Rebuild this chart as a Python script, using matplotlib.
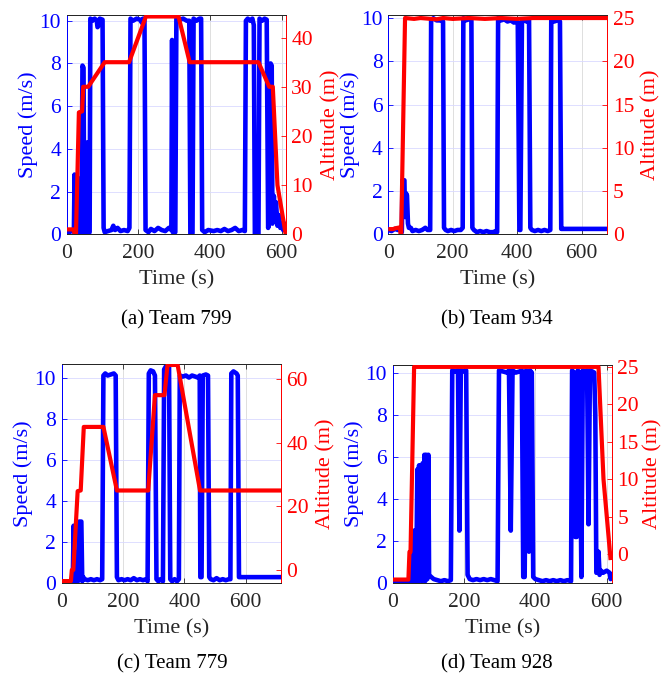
import matplotlib
matplotlib.use("Agg")
import matplotlib.pyplot as plt
from matplotlib.ticker import FixedLocator

plt.rcParams['font.family'] = ['Liberation Serif', 'DejaVu Serif']
plt.rcParams['font.size'] = 15

# ---------------- Team 799 ----------------
a_speed_t = [0, 8, 16, 20, 22, 24, 30, 34, 37, 41, 44, 47, 49, 52, 54, 57, 60, 64, 66, 72, 78, 84, 86, 90, 92,
             100, 103, 106, 115, 125, 130, 135, 142, 150, 160, 170, 175, 178, 185, 195, 205, 210, 213, 217, 220,
             228, 235, 245, 255, 265, 275, 285, 292, 294, 296, 303, 306, 315, 325, 335, 342, 345, 351, 354, 362,
             370, 375, 378, 385, 395, 410, 420, 430, 440, 450, 460, 470, 480, 490, 497, 500, 505, 512, 518, 522,
             525, 535, 538, 545, 552, 558, 562, 566, 569, 572, 574, 578, 581, 584, 588, 592, 596, 600, 604, 608, 611]
a_speed_v = [0.15, 0.1, 0.2, 0.1, 2.8, 0.1, 0.2, 2.6, 0.0, 0.2, 7.9, 7.8, 0.0, 2.0, 0.1, 4.3, 0.0, 0.1, 10.1, 10.0,
             10.1, 10.0, 9.7, 9.8, 10.1, 10.05, 0.3, 0.1, 0.15, 0.2, 0.4, 0.2, 0.3, 0.15, 0.2, 0.15, 0.3, 10.1,
             10.0, 10.1, 10.05, 9.9, 10.1, 10.1, 0.2, 0.1, 0.25, 0.15, 0.3, 0.2, 0.15, 0.3, 0.2, 9.1, 0.1, 0.1,
             10.1, 10.05, 10.1, 10.0, 10.0, 0.0, 0.05, 10.1, 10.0, 10.1, 10.1, 0.2, 0.1, 0.2, 0.15, 0.2, 0.15,
             0.25, 0.15, 0.2, 0.3, 0.15, 0.2, 0.15, 10.0, 10.1, 10.0, 10.1, 9.8, 0.0, 0.0, 10.1, 10.0, 10.1,
             10.05, 0.3, 0.6, 8.0, 7.9, 0.5, 1.8, 0.8, 1.5, 0.4, 0.9, 0.3, 0.5, 0.2, 0.5, 0.4]
a_alt_t = [0, 18, 22, 26, 34, 43, 46, 60, 106, 174, 221, 312, 343, 535, 565, 575, 588, 611]
a_alt_v = [1.0, 1.0, 0.2, 0.2, 24.8, 25.0, 30.0, 30.0, 35.0, 35.0, 44.3, 44.3, 35.0, 35.0, 30.0, 30.0, 10.0, 0.0]

# ---------------- Team 934 ----------------
b_speed_t = [0, 10, 20, 30, 38, 42, 44, 50, 52, 55, 58, 61, 64, 70, 75, 85, 95, 105, 115, 122, 130, 133, 140,
             150, 160, 170, 173, 178, 185, 195, 205, 215, 225, 231, 233, 240, 250, 258, 261, 266, 275, 285, 295,
             305, 315, 325, 335, 338, 341, 350, 360, 370, 380, 390, 398, 402, 407, 410, 415, 420, 430, 437, 441,
             446, 455, 465, 475, 485, 495, 503, 506, 515, 525, 533, 537, 545, 680]
b_speed_v = [0.2, 0.15, 0.25, 0.2, 0.25, 0.1, 2.5, 2.5, 0.8, 1.9, 1.8, 0.5, 0.3, 0.3, 0.15, 0.2, 0.15, 0.2, 0.3,
             0.2, 0.2, 9.9, 10.0, 9.9, 9.9, 9.85, 0.3, 0.2, 0.15, 0.2, 0.15, 0.2, 0.2, 0.3, 10.0, 9.9, 9.95, 9.9,
             0.3, 0.2, 0.1, 0.15, 0.1, 0.15, 0.1, 0.1, 0.15, 0.1, 10.0, 9.9, 9.95, 9.85, 9.9, 9.8, 9.85, 9.8, 0.2,
             0.2, 9.9, 9.9, 9.85, 9.9, 0.3, 0.2, 0.15, 0.2, 0.15, 0.2, 0.15, 0.2, 9.9, 9.85, 9.9, 9.85, 0.25,
             0.25, 0.25]
b_alt_t = [0, 15, 22, 36, 38, 40, 52, 80, 100, 150, 170, 200, 250, 300, 350, 400, 450, 500, 680]
b_alt_v = [0.6, 0.6, 0.7, 0.8, 0.0, 0.0, 25.0, 24.9, 25.0, 24.85, 25.0, 24.9, 25.0, 24.9, 25.0, 24.9, 25.0, 25.0,
           25.0]

# ---------------- Team 779 ----------------
c_speed_t = [0, 20, 36, 39, 41, 44, 46, 50, 53, 57, 64, 67, 70, 75, 85, 95, 105, 115, 125, 132, 136, 142, 150,
             160, 170, 176, 180, 185, 195, 205, 215, 225, 235, 245, 255, 265, 275, 280, 284, 290, 298, 304, 309,
             315, 322, 330, 334, 340, 350, 354, 360, 368, 376, 382, 385, 395, 405, 415, 425, 435, 444, 450, 452,
             456, 460, 470, 477, 481, 486, 495, 505, 515, 525, 535, 545, 550, 553, 560, 570, 574, 578, 585, 715]
c_speed_v = [0.05, 0.05, 0.1, 2.8, 0.1, 1.5, 0.1, 0.3, 0.1, 3.0, 3.0, 0.1, 0.3, 0.2, 0.15, 0.2, 0.15, 0.2, 0.15,
             0.2, 10.1, 10.2, 10.1, 10.15, 10.2, 10.1, 0.3, 0.15, 0.2, 0.15, 0.2, 0.15, 0.25, 0.15, 0.2, 0.15, 0.2,
             0.1, 10.2, 10.35, 10.3, 10.1, 0.2, 0.1, 0.2, 0.1, 10.4, 10.55, 10.5, 0.2, 0.1, 0.2, 0.1, 0.2, 10.1,
             10.05, 10.1, 10.0, 10.1, 10.05, 10.0, 10.1, 0.3, 0.3, 10.1, 10.15, 10.1, 0.3, 0.2, 0.15, 0.25, 0.15,
             0.2, 0.15, 0.2, 0.2, 10.2, 10.3, 10.2, 10.1, 0.3, 0.3, 0.3]
c_alt_t = [0, 30, 33, 38, 52, 62, 72, 136, 180, 282, 304, 335, 345, 378, 451, 715]
c_alt_v = [-3.5, -3.5, 0.0, 0.0, 24.8, 25.0, 45.0, 45.0, 25.0, 25.0, 55.0, 55.0, 64.5, 64.5, 25.0, 25.0]

# ---------------- Team 928 ----------------
d_speed_t = [0, 20, 40, 48, 50, 52, 55, 57, 60, 62, 64, 66, 69, 71, 74, 76, 79, 81, 84, 86, 89, 91, 94, 97, 100,
             102, 108, 115, 125, 135, 145, 155, 163, 167, 175, 183, 187, 191, 200, 206, 210, 216, 225, 235, 245,
             255, 265, 275, 285, 294, 298, 310, 320, 326, 331, 336, 345, 355, 362, 366, 370, 374, 378, 382, 385,
             390, 394, 400, 410, 420, 430, 440, 450, 460, 470, 480, 490, 500, 503, 509, 512, 516, 519, 524, 529,
             533, 540, 545, 549, 553, 560, 565, 568, 571, 574, 577, 580, 584, 590, 600, 608, 611, 614]
d_speed_v = [0.05, 0.05, 0.05, 0.1, 1.4, 0.1, 1.0, 0.1, 2.5, 0.1, 1.5, 0.1, 5.4, 0.1, 5.6, 0.2, 5.6, 0.1, 5.7, 0.2,
             6.1, 0.1, 6.1, 0.2, 6.1, 0.4, 0.3, 0.2, 0.15, 0.1, 0.15, 0.1, 0.15, 10.1, 10.05, 10.1, 2.5, 10.1,
             10.05, 10.1, 0.4, 0.2, 0.15, 0.2, 0.15, 0.2, 0.15, 0.2, 0.15, 0.1, 10.1, 10.05, 10.0, 10.1, 2.5, 10.1,
             10.0, 10.05, 10.1, 0.3, 0.3, 10.1, 10.0, 1.5, 10.1, 10.0, 0.3, 0.2, 0.15, 0.1, 0.15, 0.1, 0.15, 0.1,
             0.15, 0.1, 0.15, 0.1, 10.1, 10.0, 2.2, 2.2, 10.1, 10.0, 0.3, 10.1, 10.0, 10.1, 2.8, 10.1, 10.05, 10.0,
             8.0, 0.5, 0.6, 1.5, 0.4, 0.6, 0.5, 0.6, 0.5, 0.2, 0.4]
d_alt_t = [0, 44, 47, 50, 60, 577, 591, 611]
d_alt_v = [-3.4, -3.4, 0.3, 0.3, 25.0, 25.0, 10.0, -0.8]

captions = ['(a) Team 799', '(b) Team 934', '(c) Team 779', '(d) Team 928']
x_ticks = [0, 200, 400, 600]
speed_ticks = [0, 2, 4, 6, 8, 10]

W, H = 663, 681
fig = plt.figure(figsize=(W / 100, H / 100), dpi=100)


def px_rect(left, top, right, bottom):
    return [left / W, 1 - bottom / H, (right - left) / W, (bottom - top) / H]


panels = [
    dict(rect=px_rect(66.7, 15, 285.7, 234.3), st=a_speed_t, sv=a_speed_v, at=a_alt_t, av=a_alt_v,
         xmax=611, smax=10.27, alim=(0, 44.6), aticks=[0, 10, 20, 30, 40], cap=(176, 320), apad=6),
    dict(rect=px_rect(388.3, 15, 607.3, 234.3), st=b_speed_t, sv=b_speed_v, at=b_alt_t, av=b_alt_v,
         xmax=680, smax=10.15, alim=(0, 25.35), aticks=[0, 5, 10, 15, 20, 25], cap=(497, 320), apad=5),
    dict(rect=px_rect(61.7, 364, 281, 583.3), st=c_speed_t, sv=c_speed_v, at=c_alt_t, av=c_alt_v,
         xmax=715, smax=10.66, alim=(-4.2, 64.8), aticks=[0, 20, 40, 60], cap=(172, 664), apad=6),
    dict(rect=px_rect(392.7, 365, 611.7, 583.3), st=d_speed_t, sv=d_speed_v, at=d_alt_t, av=d_alt_v,
         xmax=614, smax=10.36, alim=(-3.9, 25.25), aticks=[0, 5, 10, 15, 20, 25], cap=(497, 664), apad=3),
]

dark = (0.15, 0.15, 0.15)
blue = (0, 0, 1)
red = (1, 0, 0)
TICK_FS = 15.5
LABEL_FS = 16

for p, cap in zip(panels, captions):
    ax = fig.add_axes(p['rect'])
    ax2 = ax.twinx()
    ax.set_zorder(1)
    ax2.set_zorder(2)
    ax.patch.set_visible(True)
    ax2.patch.set_visible(False)

    # grid: vertical grey, horizontal tinted with the speed axis colour
    for xv in x_ticks:
        ax.axvline(xv, color=(0.85, 0.85, 0.85), lw=0.6, zorder=0)
    for yv in speed_ticks:
        ax.axhline(yv, color=(0.85, 0.85, 1.0), lw=0.6, zorder=0)

    ax.plot(p['st'], p['sv'], color=blue, lw=3.3, solid_joinstyle='round', solid_capstyle='round', zorder=2)
    ax2.plot(p['at'], p['av'], color=red, lw=3.0, solid_joinstyle='round', solid_capstyle='butt', zorder=3)

    ax.set_xlim(0, p['xmax'])
    ax.set_ylim(0, p['smax'])
    ax2.set_ylim(*p['alim'])
    ax.xaxis.set_major_locator(FixedLocator(x_ticks))
    ax.yaxis.set_major_locator(FixedLocator(speed_ticks))
    ax2.yaxis.set_major_locator(FixedLocator(p['aticks']))

    ax.tick_params(axis='x', direction='in', length=3.5, width=0.6, colors=dark, top=True,
                   labelsize=TICK_FS, pad=7)
    ax.tick_params(axis='y', direction='in', length=3.5, width=0.6, colors=blue, labelsize=TICK_FS, pad=4)
    ax2.tick_params(axis='y', direction='in', length=3.5, width=0.6, colors=red, labelsize=TICK_FS, pad=4)

    for a in (ax, ax2):
        for s in a.spines.values():
            s.set_linewidth(0.7)
        a.spines['top'].set_color(dark)
        a.spines['bottom'].set_color(dark)
        a.spines['left'].set_color(blue)
        a.spines['right'].set_color(red)

    ax.set_xlabel('Time (s)', color=dark, fontsize=LABEL_FS, labelpad=5)
    ax.set_ylabel('Speed (m/s)', color=blue, fontsize=LABEL_FS, labelpad=1)
    ax2.set_ylabel('Altitude (m)', color=red, fontsize=LABEL_FS, labelpad=p['apad'])

    cx, cy = p['cap']
    fig.text(cx / W, 1 - cy / H, cap, ha='center', va='center', fontsize=15, color='black')

fig.savefig('out.png', dpi=100)
